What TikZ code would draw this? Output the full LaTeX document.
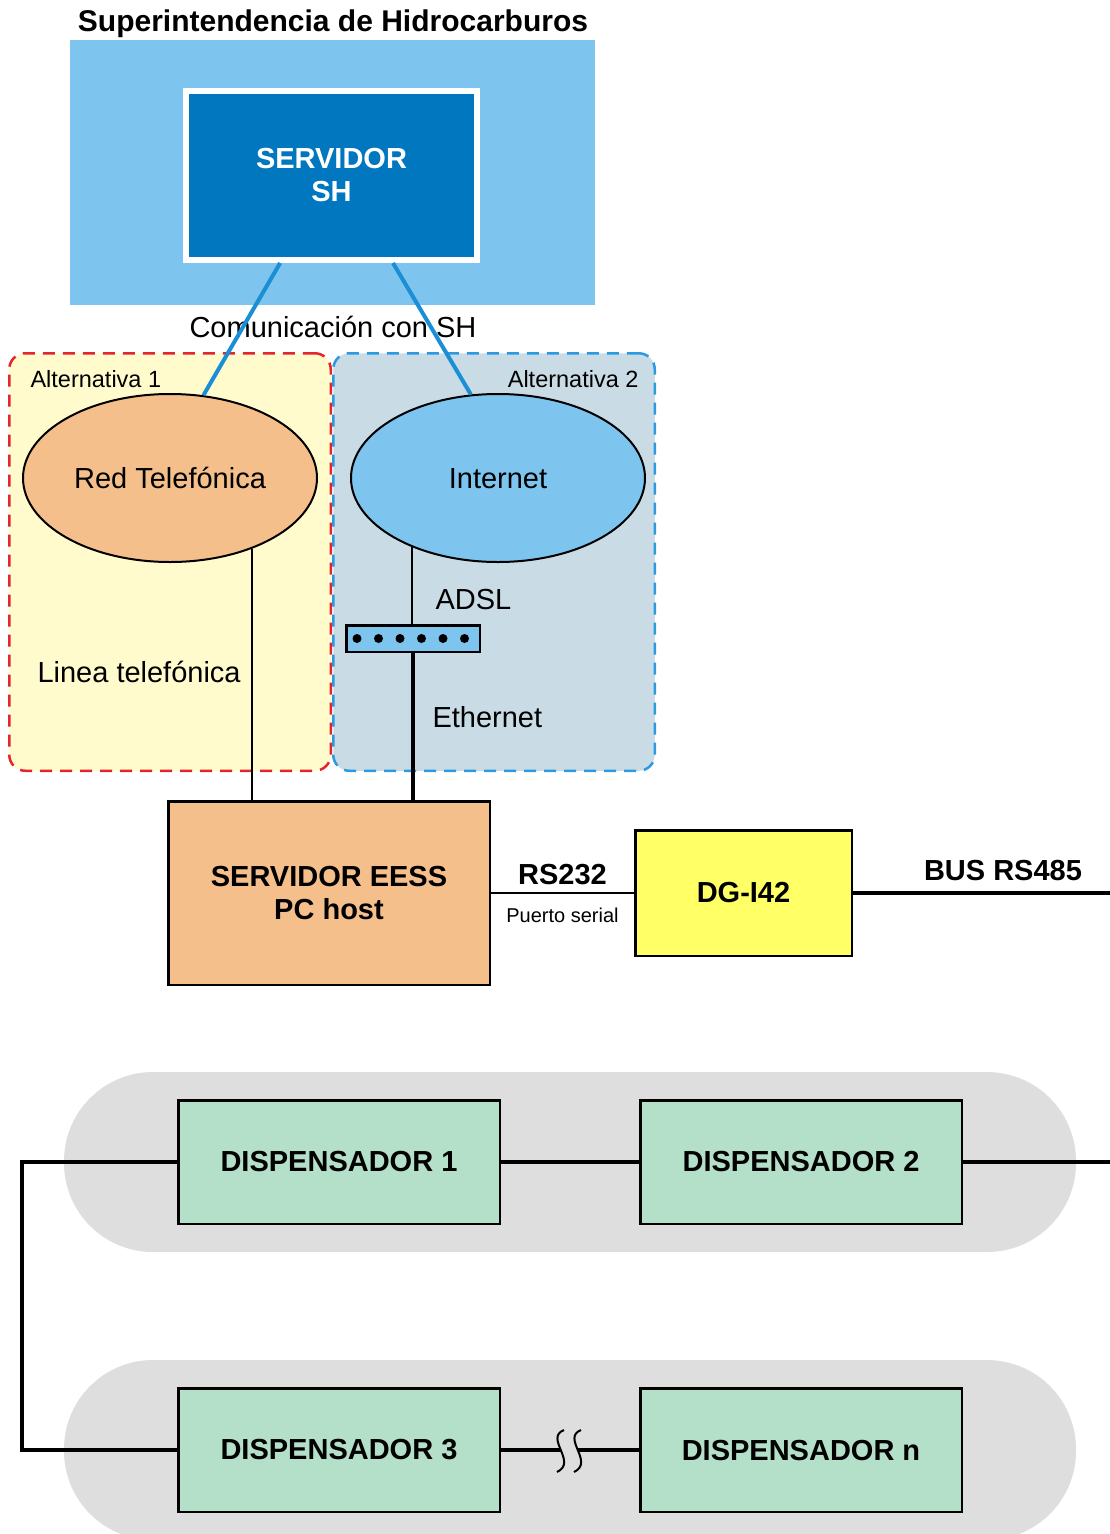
\documentclass[tikz,border=0pt]{standalone}
\usepackage{fontspec}
\setmainfont{Liberation Sans}
\usetikzlibrary{positioning,shapes.geometric,calc}
\definecolor{cielo}{HTML}{7DC4EE}
\definecolor{azul}{HTML}{0077BF}
\definecolor{azulln}{HTML}{1B8FD6}
\definecolor{crema}{HTML}{FFFBCC}
\definecolor{grisazul}{HTML}{C9DBE5}
\definecolor{salmon}{HTML}{F5BF8C}
\definecolor{amarillo}{HTML}{FFFF66}
\definecolor{verde}{HTML}{B4DFC9}
\definecolor{gris}{HTML}{DEDEDE}
\definecolor{rojo}{HTML}{E2262B}
\definecolor{azuldash}{HTML}{2B9AE0}

\begin{document}
\begin{tikzpicture}[x=1pt, y=-1pt, node distance=138pt,
  txt/.style={font=\fontsize{29}{33}\selectfont},
  btxt/.style={font=\fontsize{29}{33}\selectfont\bfseries},
  chico/.style={font=\fontsize{23.5}{26}\selectfont},
  caja/.style={draw, line width=2.5pt, inner sep=0pt, align=center, btxt},
  disp/.style={caja, fill=verde, minimum width=321.5pt, minimum height=123.5pt},
  nube/.style={ellipse, draw, line width=2pt, minimum width=294pt, minimum height=168pt, inner sep=0pt, text height=21pt, text depth=0pt, txt},
  alt/.style={draw, line width=2.5pt, dash pattern=on 12pt off 8pt, rounded corners=16pt, minimum width=321.5pt, minimum height=417.5pt},
  fila/.style={fill=gris, rounded corners=89pt, minimum width=1012pt, minimum height=180pt},
  fino/.style={line width=2pt},
  grueso/.style={line width=4.8pt}]
 \useasboundingbox (0,0) rectangle (1110,1534);

 \node[fill=cielo, minimum width=525pt, minimum height=265pt, inner sep=0pt] (ZSH) at (332.5,172.5) {};
 \node[fill=azul, draw=white, line width=6pt, minimum width=291pt, minimum height=169pt, align=center, text=white, btxt] (SH) at (331.5,175.5) {SERVIDOR\\SH};
 \node[btxt, font=\fontsize{30}{33}\selectfont\bfseries, anchor=base] (TIT) at (333,31) {Superintendencia de Hidrocarburos};

 \node[alt, draw=rojo, fill=crema] (A1) at (170,562) {};
 \node[alt, draw=azuldash, fill=grisazul] (A2) at (494,562) {};
 \node[chico, anchor=base west] (L1) at (27,387.5) {Alternativa 1};
 \node[chico, anchor=base east] (L2) at (642,387.5) {Alternativa 2};

 \node[nube, fill=salmon] (RT) at (170,478) {Red Telefónica};
 \node[nube, fill=cielo] (IN) at (498,478) {Internet};

 \node[txt, anchor=base] (COM) at (333,337) {Comunicación con SH};
 \draw[azulln, line width=4pt] ($(SH.south west)!0.327!(SH.south east)$) -- (RT.68);
 \draw[azulln, line width=4pt] ($(SH.south west)!0.707!(SH.south east)$) -- (IN.108);

 \node[draw, fill=cielo, line width=2.5pt, minimum width=133.5pt, minimum height=26.5pt, inner sep=0pt] (RO) at (413,638.5) {};
 \foreach \i in {0,...,5}
  \fill ($(RO.west)+(12+21.5*\i,0)$) circle (4.5pt);

 \node[caja, fill=salmon, minimum width=321.5pt, minimum height=183.5pt] (EESS) at (329,893) {SERVIDOR EESS\\PC host};
 \node[caja, fill=amarillo, minimum width=216.5pt, minimum height=125.5pt, right=143pt of EESS] (DG) {DG-I42};

 \draw[fino] (RT.-41.2) -- (RT.-41.2 |- EESS.north);
 \draw[fino] (IN.219.2) -- (IN.219.2 |- RO.north);
 \draw[grueso] (RO.south) -- (RO.south |- EESS.north);
 \node[txt, anchor=base west] (ADSL) at (432,609) {ADSL};
 \node[txt, anchor=base west] (LT) at (34,682) {Linea telefónica};
 \node[txt, anchor=base west] (ETH) at (429,727) {Ethernet};

 \draw[fino] (EESS.east) -- node[btxt, above=7pt, inner sep=0pt] {RS232}
  node[font=\fontsize{20}{22}\selectfont, below=14pt, inner sep=0pt] {Puerto serial} (DG.west);
 \coordinate (BUS) at (1110,893);
 \draw[grueso] (DG.east) -- (BUS);
 \node[btxt, anchor=base] (RS485) at (1003,880) {BUS RS485};

 \node[fila] (F1) at (570,1162) {};
 \node[fila] (F2) at (570,1450) {};
 \node[disp] (D1) at (339,1162) {DISPENSADOR 1};
 \node[disp, right=of D1] (D2) {DISPENSADOR 2};
 \node[disp, below=162pt of D1] (D3) {DISPENSADOR 3};
 \node[disp, right=of D3] (Dn) {DISPENSADOR n};

 \coordinate (FIN) at (1110,1162);
 \coordinate (IZQ) at (22,1162);
 \coordinate (C1) at (561,1450);
 \coordinate (C2) at (578,1450);
 \draw[grueso] (FIN) -- (D2.east);
 \draw[grueso] (D2.west) -- (D1.east);
 \draw[grueso] (D1.west) -- (IZQ) |- (D3.west);
 \draw[grueso] (D3.east) -- (C1);
 \draw[grueso] (C2) -- (Dn.west);
 \foreach \dx in {0,17}
  \draw[fino] (564+\dx,1430) .. controls (544+\dx,1438) and (578+\dx,1462) .. (557+\dx,1472);
\end{tikzpicture}
\end{document}
